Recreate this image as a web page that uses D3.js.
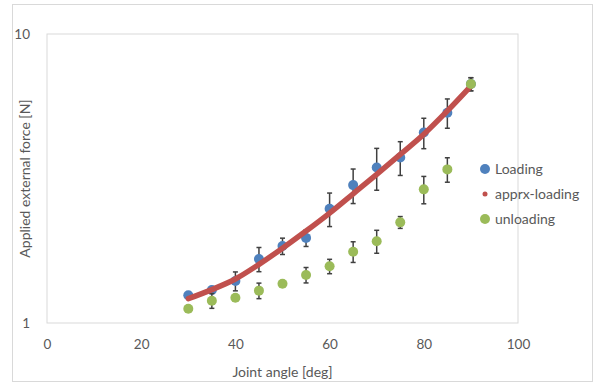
<!DOCTYPE html>
<html lang="en">
<head>
<meta charset="UTF-8">
<title>Applied external force vs joint angle</title>
<script src="https://d3js.org/d3.v7.min.js"></script>
<style>
  body { margin: 0; background: #fff; }
  text { font-family: Lato, "Open Sans", sans-serif; }
</style>
</head>
<body>
<div id="chart"></div>
<script>
// data
const angles = [30, 35, 40, 45, 50, 55, 60, 65, 70, 75, 80, 85, 90];
const loading = [1.247, 1.30, 1.397, 1.665, 1.846, 1.97, 2.486, 3.00, 3.45, 3.74, 4.56, 5.34, 6.71];
const loadingErr = [0, 0.03, 0.105, 0.16, 0.12, 0.13, 0.33, 0.41, 0.57, 0.50, 0.55, 0.62, 0.35];
const unloading = [1.121, 1.194, 1.223, 1.294, 1.368, 1.466, 1.571, 1.765, 1.918, 2.23, 2.90, 3.40, 6.71];
const unloadingErr = [0, 0.07, 0, 0.08, 0, 0.09, 0.09, 0.145, 0.175, 0.105, 0.315, 0.33, 0.35];
const apprxLoading = [1.214, 1.305, 1.42, 1.595, 1.815, 2.08, 2.40, 2.80, 3.27, 3.83, 4.50, 5.42, 6.61];
const xTicks = [0, 20, 40, 60, 80, 100];
const yTicks = [1, 10];
const legendNames = ["Loading", "apprx-loading", "unloading"];

const W = 595, H = 385;
const m = {left: 47, right: 77, top: 34, bottom: 62};

const svg = d3.select("#chart").append("svg")
    .attr("width", W).attr("height", H);

// chart border
svg.append("rect")
    .attr("x", 12.5).attr("y", 4.5)
    .attr("width", 580).attr("height", 377)
    .attr("fill", "#fff").attr("stroke", "#d9d9d9");

const x = d3.scaleLinear().domain([0, 100]).range([m.left, W - m.right]);
const y = d3.scaleLog().domain([1, 10]).range([H - m.bottom, m.top]);

// plot area box
svg.append("rect")
    .attr("x", x(0)).attr("y", y(10))
    .attr("width", x(100) - x(0)).attr("height", y(1) - y(10))
    .attr("fill", "none").attr("stroke", "#d9d9d9");

// axes (labels only)
const xAxis = svg.append("g")
    .attr("transform", `translate(0,${y(1)})`)
    .call(d3.axisBottom(x).tickValues(xTicks).tickSize(0).tickPadding(16));
const yAxis = svg.append("g")
    .attr("transform", `translate(${x(0)},0)`)
    .call(d3.axisLeft(y).tickValues(yTicks).tickFormat(d3.format("d")).tickSize(0).tickPadding(17));
[xAxis, yAxis].forEach(g => {
  g.select(".domain").remove();
  g.selectAll("text").attr("fill", "#595959").attr("font-size", 13.5)
      .style("font-family", "Lato, 'Open Sans', sans-serif");
});

svg.append("text")
    .attr("x", (x(0) + x(100)) / 2).attr("y", 377)
    .attr("text-anchor", "middle").attr("font-size", 14).attr("fill", "#595959")
    .text("Joint angle [deg]");
svg.append("text")
    .attr("transform", `translate(30,${(y(1) + y(10)) / 2}) rotate(-90)`)
    .attr("text-anchor", "middle").attr("font-size", 14).attr("fill", "#595959")
    .text("Applied external force [N]");

const blue = "#4f81bd", red = "#c0504d", green = "#9bbb59";

function errorBars(vals, errs) {
  const g = svg.append("g").attr("stroke", "#404040").attr("stroke-width", 1.5);
  angles.forEach((a, i) => {
    if (!errs[i]) return;
    const top = y(vals[i] + errs[i]), bot = y(vals[i] - errs[i]), cx = x(a);
    g.append("line").attr("x1", cx).attr("x2", cx).attr("y1", top).attr("y2", bot);
    g.append("line").attr("x1", cx - 2.5).attr("x2", cx + 2.5).attr("y1", top).attr("y2", top);
    g.append("line").attr("x1", cx - 2.5).attr("x2", cx + 2.5).attr("y1", bot).attr("y2", bot);
  });
}

errorBars(loading, loadingErr);
svg.append("g").selectAll("circle")
    .data(angles).join("circle")
    .attr("cx", d => x(d)).attr("cy", (d, i) => y(loading[i]))
    .attr("r", 5).attr("fill", blue);

errorBars(unloading, unloadingErr);

// approximation curve
const line = d3.line()
    .x(d => x(d))
    .y((d, i) => y(apprxLoading[i]))
    .curve(d3.curveMonotoneX);
svg.append("path")
    .datum(angles)
    .attr("d", line)
    .attr("fill", "none").attr("stroke", red)
    .attr("stroke-width", 5.5).attr("stroke-linecap", "round");

svg.append("g").selectAll("circle")
    .data(angles).join("circle")
    .attr("cx", d => x(d)).attr("cy", (d, i) => y(unloading[i]))
    .attr("r", 5).attr("fill", green);

// legend
const legend = svg.append("g").attr("transform", "translate(485,169)");
const legColors = [blue, red, green];
const legR = [5, 2.5, 5];
legendNames.forEach((n, i) => {
  const g = legend.append("g").attr("transform", `translate(0,${i * 25})`);
  g.append("circle").attr("r", legR[i]).attr("fill", legColors[i]);
  g.append("text").attr("x", 10).attr("dy", "0.35em")
      .attr("font-size", 14).attr("fill", "#595959").text(n);
});
</script>
</body>
</html>
